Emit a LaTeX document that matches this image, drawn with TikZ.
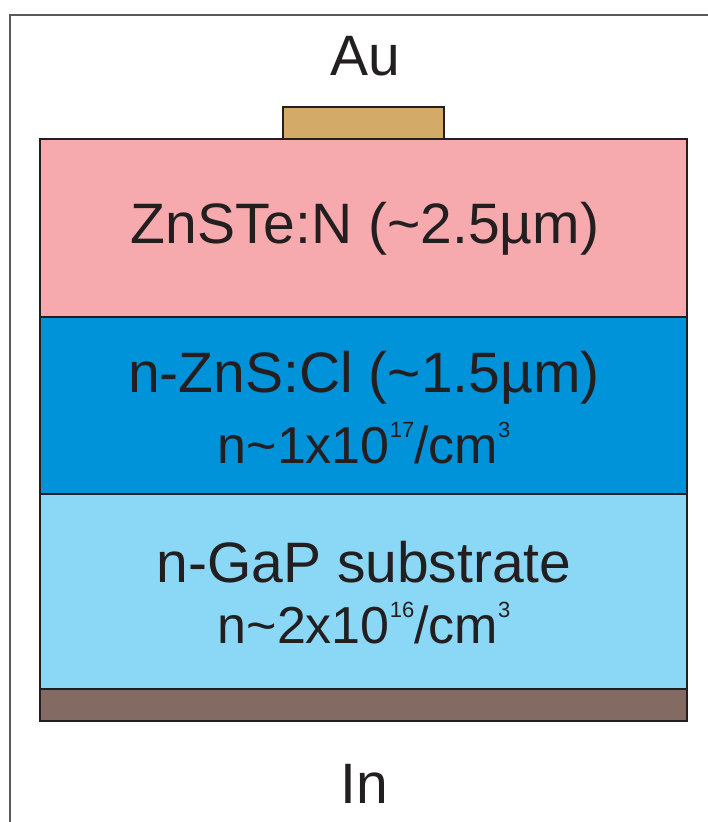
\documentclass[tikz,border=0pt]{standalone}
\usepackage{fontspec}
\setmainfont{Liberation Sans}
\usepackage{tikz}

\definecolor{frameGray}{HTML}{58595B}
\definecolor{edgeDark}{HTML}{231F20}
\definecolor{auGold}{HTML}{D4AA69}
\definecolor{znsteRed}{HTML}{F6AAAD}
\definecolor{znsBlue}{HTML}{0093D9}
\definecolor{gapBlue}{HTML}{8AD8F5}
\definecolor{inBrown}{HTML}{836B64}

\newcommand{\bigtxt}{\fontsize{57}{60}\selectfont}
\newcommand{\midtxt}{\fontsize{52}{56}\selectfont}
\newcommand{\supx}[1]{\raisebox{26pt}{\fontsize{22}{22}\selectfont #1}}

\tikzset{
  layer/.style={draw=edgeDark, line width=2pt},
  label/.style={anchor=base, inner sep=0pt, text=edgeDark}
}

\begin{document}
\begin{tikzpicture}[x=1pt, y=-1pt]
  \useasboundingbox (0,0) rectangle (708,822);
  % frame
  \draw[frameGray, line width=1.5pt] (10,822) -- (10,15) -- (708,15);

  % contacts and layers
  \filldraw[layer, fill=auGold] (283,107) rectangle (444,139);
  \filldraw[layer, fill=znsteRed] (40,139) rectangle (687,317);
  \filldraw[layer, fill=znsBlue] (40,317) rectangle (687,494);
  \filldraw[layer, fill=gapBlue] (40,494) rectangle (687,689);
  \filldraw[layer, fill=inBrown] (40,689) rectangle (687,721);

  % labels
  \node[label, font=\bigtxt] (au) at (365,75) {Au};
  \node[label, font=\bigtxt] (znste) at (365,243) {ZnSTe:N (\textasciitilde 2.5µm)};
  \node[label, font=\bigtxt] (zns) at (364,392) {n-ZnS:Cl (\textasciitilde 1.5µm)};
  \node[label, font=\midtxt] (znsdop) at (364,463) {n\textasciitilde 1x10\supx{17}/cm\supx{3}};
  \node[label, font=\bigtxt] (gap) at (364,582) {n-GaP substrate};
  \node[label, font=\midtxt] (gapdop) at (364,643) {n\textasciitilde 2x10\supx{16}/cm\supx{3}};
  \node[label, font=\bigtxt] (in) at (364,803) {In};
\end{tikzpicture}
\end{document}
